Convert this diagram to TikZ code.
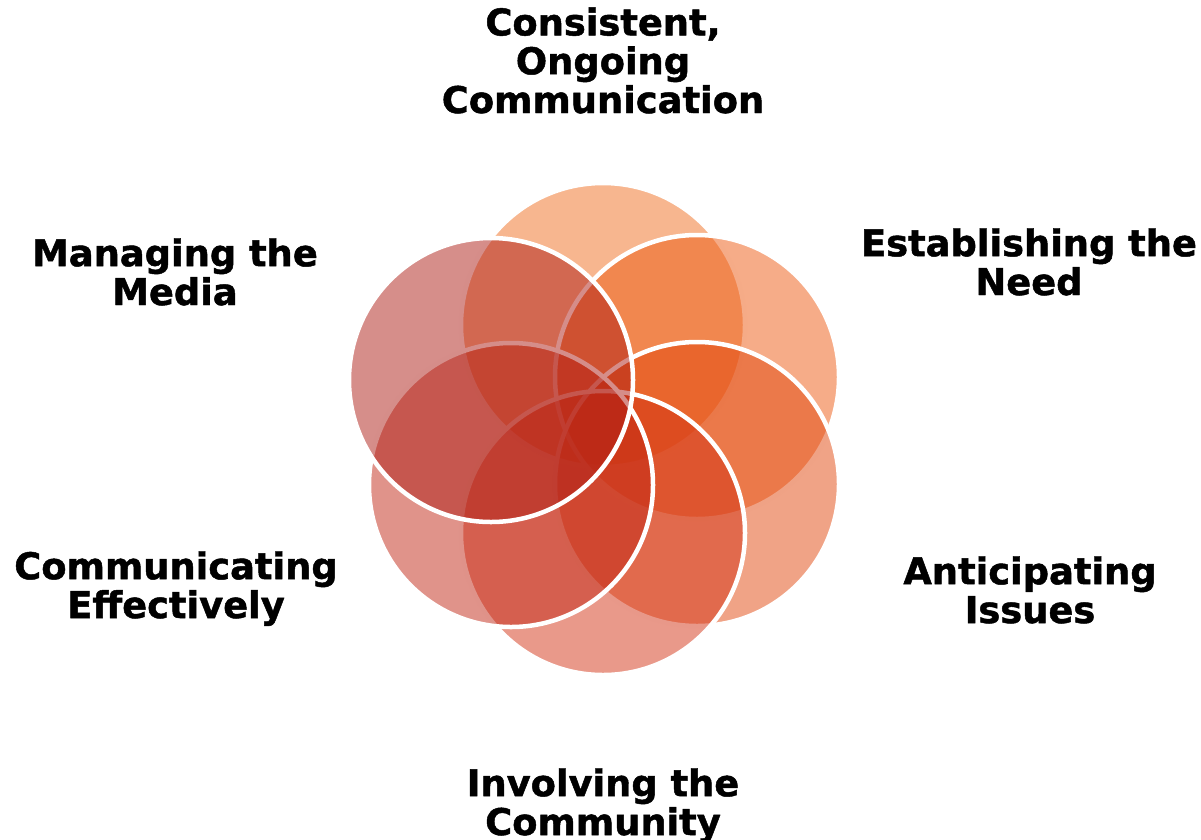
\documentclass[tikz,border=0pt]{standalone}
\usepackage{fontspec}
\setmainfont{DejaVu Sans}[BoldFeatures={FakeBold=1.3}]
\definecolor{cA}{RGB}{239,109,31}
\definecolor{cB}{RGB}{237,89,17}
\definecolor{cC}{RGB}{225,71,13}
\definecolor{cD}{RGB}{211,51,21}
\definecolor{cE}{RGB}{193,39,21}
\definecolor{cF}{RGB}{173,29,21}
\begin{document}
\begin{tikzpicture}[x=1pt,y=-1pt,
  petal/.style={circle, minimum size=284pt, inner sep=0pt, draw=white, line width=4.5pt, fill opacity=0.5, draw opacity=1},
  lbl/.style={align=center, inner sep=0pt, anchor=base, font=\fontsize{36.8}{38.8}\selectfont\bfseries}]
\useasboundingbox (0,0) rectangle (1201,839);
\node[petal, fill=cA] (c1) at (603,325) {};
\node[petal, fill=cB] (c2) at (697,377) {};
\node[petal, fill=cC] (c3) at (697,484) {};
\node[petal, fill=cD] (c4) at (603,533) {};
\node[petal, fill=cE] (c5) at (511,485) {};
\node[petal, fill=cF] (c6) at (491,380) {};
\node[lbl] (l1) at (603,113) {Consistent,\\Ongoing\\Communication};
\node[lbl] (l2) at (1029,295) {Establishing the\\Need};
\node[lbl] (l3) at (1030,623) {Anticipating\\Issues};
\node[lbl] (l4) at (603,835) {Involving the\\Community};
\node[lbl] (l5) at (176,618) {Communicating\\Effectively};
\node[lbl] (l6) at (175,305) {Managing the\\Media};
\end{tikzpicture}
\end{document}
